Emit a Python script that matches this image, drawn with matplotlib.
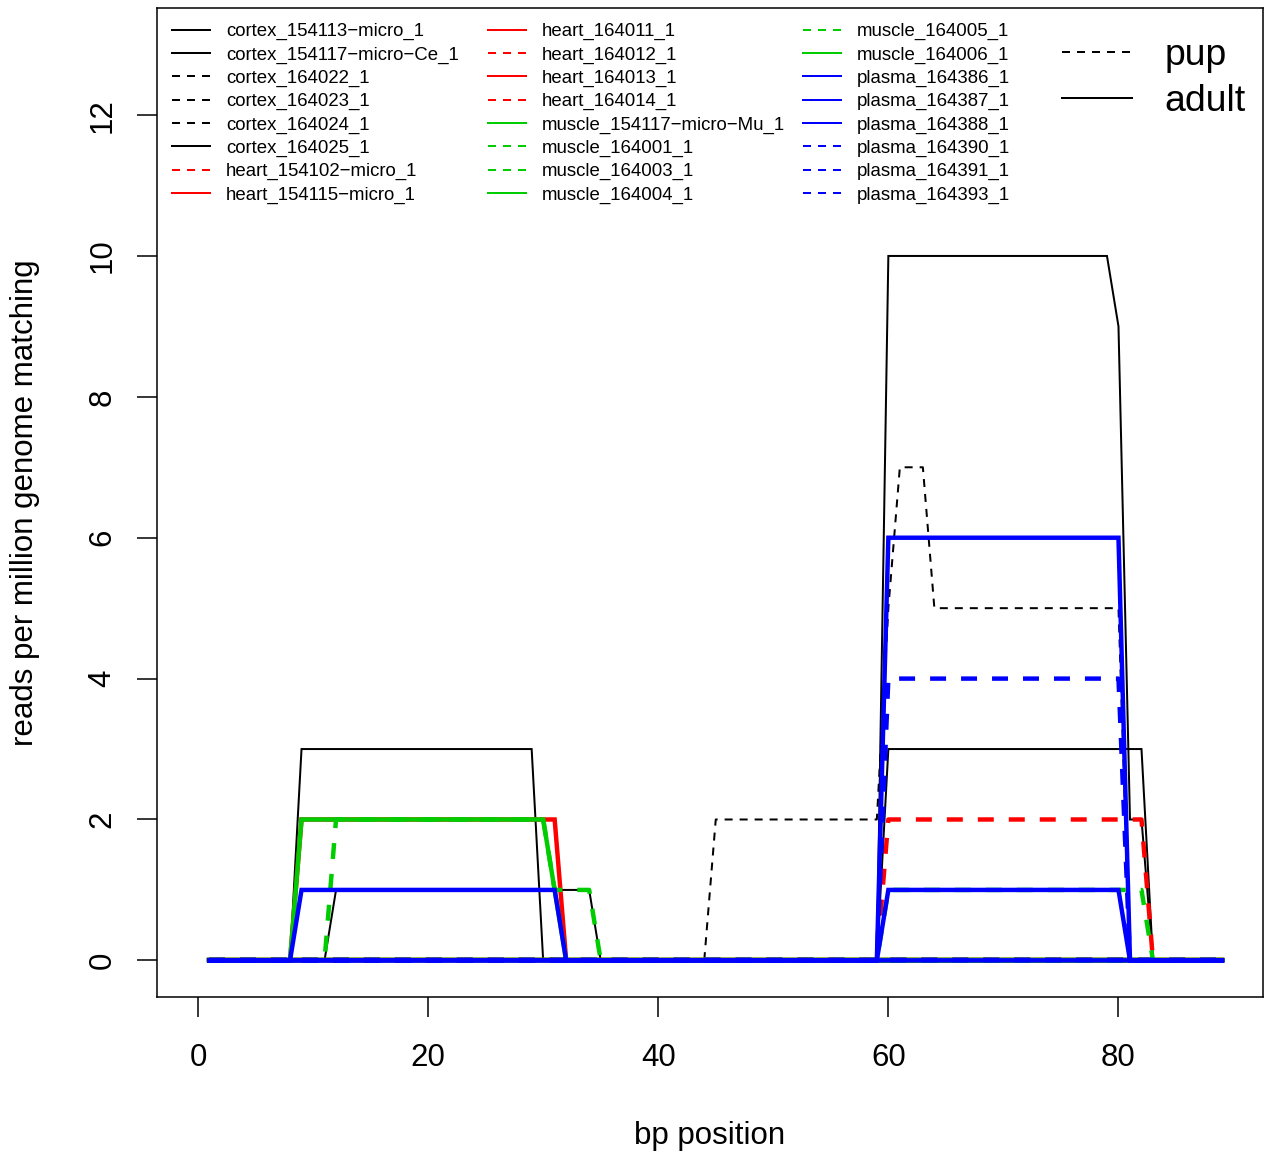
import numpy as np
import matplotlib
matplotlib.use("Agg")
import matplotlib.pyplot as plt
from matplotlib.lines import Line2D

plt.rcParams['font.family'] = ['Liberation Sans', 'DejaVu Sans']
plt.rcParams['lines.scale_dashes'] = False

positions = np.arange(1, 90)

names = ["cortex_154113\u2212micro_1", "cortex_154117\u2212micro\u2212Ce_1", "cortex_164022_1",
         "cortex_164023_1", "cortex_164024_1", "cortex_164025_1",
         "heart_154102\u2212micro_1", "heart_154115\u2212micro_1", "heart_164011_1",
         "heart_164012_1", "heart_164013_1", "heart_164014_1",
         "muscle_154117\u2212micro\u2212Mu_1", "muscle_164001_1", "muscle_164003_1",
         "muscle_164004_1", "muscle_164005_1", "muscle_164006_1",
         "plasma_164386_1", "plasma_164387_1", "plasma_164388_1",
         "plasma_164390_1", "plasma_164391_1", "plasma_164393_1"]
tissue_colors = ["black"] * 6 + ["red"] * 6 + ["#00CD00"] * 6 + ["blue"] * 6
is_pup = [False, False, True, True, True, False,
          True, False, False, True, False, True,
          False, True, True, False, True, False,
          False, False, False, True, True, True]

# read counts: (first bp, last bp, value), zero everywhere else
runs = {
    "cortex_154113\u2212micro_1": [(9, 29, 3), (60, 79, 10), (80, 80, 9), (81, 82, 2)],
    "cortex_154117\u2212micro\u2212Ce_1": [(12, 34, 1), (60, 82, 3)],
    "cortex_164022_1": [(45, 59, 2), (60, 60, 5), (61, 63, 7), (64, 80, 5)],
    "heart_154102\u2212micro_1": [(60, 82, 2)],
    "heart_154115\u2212micro_1": [(9, 31, 2)],
    "muscle_154117\u2212micro\u2212Mu_1": [(9, 30, 2), (31, 31, 1)],
    "muscle_164001_1": [(12, 30, 2), (31, 34, 1)],
    "muscle_164005_1": [(60, 82, 1)],
    "plasma_164386_1": [(9, 31, 1)],
    "plasma_164387_1": [(60, 80, 6)],
    "plasma_164388_1": [(60, 80, 1)],
    "plasma_164390_1": [(60, 80, 4)],
}

thin_dash = (5.76, 5.04)
thick_dash = (11.5, 10.8)

fig = plt.figure(figsize=(12.71, 11.52), dpi=100)
ax = fig.add_axes([157 / 1271, 1 - 997 / 1152, 1106 / 1271, 989 / 1152])

for name, col, pup in zip(names, tissue_colors, is_pup):
    y = np.zeros(len(positions))
    for a, b, v in runs.get(name, []):
        y[(positions >= a) & (positions <= b)] = v
    lw = 1.44 if col == "black" else 3.2
    ln, = ax.plot(positions, y, color=col, lw=lw, solid_joinstyle='miter')
    if pup:
        ln.set_dashes(thin_dash if col == "black" else thick_dash)

ax.set_xlim(-3.56, 92.56)
ax.set_ylim(-0.52, 13.52)
ax.set_xticks([0, 20, 40, 60, 80])
ax.set_yticks([0, 2, 4, 6, 8, 10, 12])
ax.tick_params(axis='both', length=14.4, width=1.1, labelsize=22.5)
ax.tick_params(axis='x', pad=19)
ax.tick_params(axis='y', pad=14, labelrotation=90)
for t in ax.get_yticklabels():
    t.set_va('center')
for s in ax.spines.values():
    s.set_linewidth(1.1)

ax.set_xlabel("bp position", fontsize=22.5)
ax.xaxis.label.set_va('center')
ax.xaxis.set_label_coords(0.5, -0.1405)
ax.set_ylabel("reads per million genome matching", fontsize=22.5)
ax.yaxis.label.set_va('center')
ax.yaxis.set_label_coords(-0.1193, 0.5)

# three legend columns, each anchored at its own pixel spot
col_left = [172, 488, 803]
for k in range(3):
    handles = []
    for i in range(k * 8, k * 8 + 8):
        h = Line2D([], [], color=tissue_colors[i], lw=1.44)
        if is_pup[i]:
            h.set_dashes(thin_dash)
        handles.append(h)
    leg = ax.legend(handles, names[k * 8:k * 8 + 8], loc='upper left',
                    bbox_to_anchor=(col_left[k] / 1271, 1 - 23 / 1152),
                    bbox_transform=fig.transFigure, frameon=False, fontsize=13.4,
                    handlelength=2.04, handletextpad=0.86, labelspacing=0.33,
                    borderpad=0, borderaxespad=0)
    ax.add_artist(leg)

age_handles = [Line2D([], [], color="black", lw=1.44, dashes=thin_dash),
               Line2D([], [], color="black", lw=1.44)]
ax.legend(age_handles, ["pup", "adult"], loc='upper left',
          bbox_to_anchor=(1062 / 1271, 1 - 38 / 1152), bbox_transform=fig.transFigure,
          frameon=False, fontsize=26.9, handlelength=1.87, handletextpad=0.88,
          labelspacing=0.29, borderpad=0, borderaxespad=0)

fig.savefig("out.png", dpi=100)
